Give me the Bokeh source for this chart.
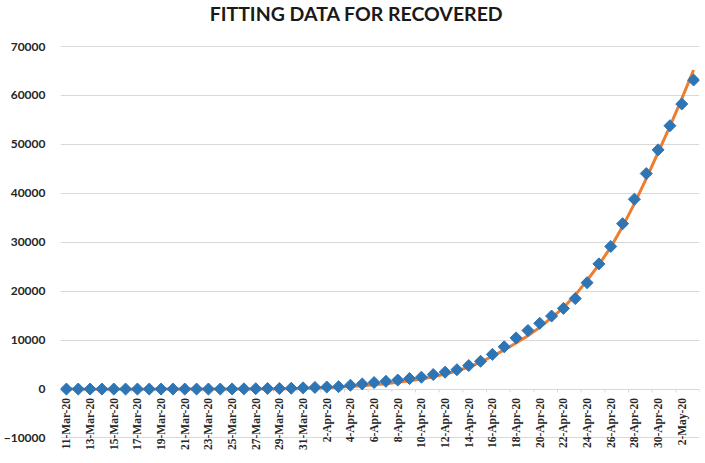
import math
import pandas as pd
from bokeh.plotting import figure
from bokeh.models import ColumnDataSource, LabelSet, Label, Range1d, SingleIntervalTicker
from bokeh.embed import file_html
from bokeh.resources import INLINE

# ---- data -------------------------------------------------------------
start_date = "2020-03-11"
end_date = "2020-05-03"

recovered = [0, 0, 0, 0, 0, 0, 0, 0, 0, 0, 0, 0, 0, 0,
             26, 42, 70, 105, 105, 162, 243,
             333, 415, 484, 786, 1042, 1326, 1582, 1846, 2142, 2423,
             2965, 3446, 3957, 4799, 5674, 7089, 8631, 10453, 11976, 13430,
             14918, 16477, 18491, 21737, 25582, 29140, 33791, 38809, 44040, 48886,
             53808, 58259, 63151]

fitted = [0, -10, -20, -30, -30, -30, -30, -20, -10, 0,
          0, 0, 0, 0, 0, 0, 0, 15, 40, 80, 130,
          200, 290, 400, 530, 690, 880, 1100, 1370, 1680, 2050,
          2500, 3050, 3700, 4500, 5500, 6700, 8000, 9400, 10900, 12600,
          14600, 16600, 19200, 22200, 25400, 29000, 33200, 37900, 43000, 48300,
          53700, 59300, 65200]

tick_labels = ["11-Mar-20", "13-Mar-20", "15-Mar-20", "17-Mar-20", "19-Mar-20",
               "21-Mar-20", "23-Mar-20", "25-Mar-20", "27-Mar-20", "29-Mar-20",
               "31-Mar-20", "2-Apr-20", "4-Apr-20", "6-Apr-20", "8-Apr-20",
               "10-Apr-20", "12-Apr-20", "14-Apr-20", "16-Apr-20", "18-Apr-20",
               "20-Apr-20", "22-Apr-20", "24-Apr-20", "26-Apr-20", "28-Apr-20",
               "30-Apr-20", "2-May-20"]

title_text = "FITTING DATA FOR RECOVERED"
y_step = 10000
# visible value window (the frame spans the whole canvas height, so the
# window extends past the 70000 / -10000 gridlines to leave room for
# the title above and the date labels below)
y_view_min, y_view_max = -15215, 79407

# ---- figure ---------------------------------------------------------------
dates = pd.date_range(start_date, end_date, freq="D")
src = ColumnDataSource(dict(x=dates, y=recovered, fit=fitted))

half_day = pd.Timedelta(hours=12)
fig = figure(width=705, height=463, output_backend="svg", toolbar_location=None,
             x_axis_type="datetime",
             x_range=Range1d(dates[0] - half_day, dates[-1] + half_day),
             y_range=Range1d(y_view_min, y_view_max),
             min_border_left=57, min_border_right=6, min_border_bottom=0,
             min_border_top=0)

fig.outline_line_color = None
fig.background_fill_color = "white"
fig.border_fill_color = "white"

fig.xaxis.visible = False
fig.xgrid.visible = False

fig.yaxis.ticker = SingleIntervalTicker(interval=y_step)
fig.yaxis.axis_line_color = None
fig.yaxis.major_tick_line_color = None
fig.yaxis.minor_tick_line_color = None
fig.yaxis.major_tick_out = 0
fig.yaxis.major_tick_in = 0
fig.yaxis.minor_tick_out = 0
fig.yaxis.major_label_text_font = "Lato"
fig.yaxis.major_label_text_font_style = "bold"
fig.yaxis.major_label_text_font_size = "12px"
fig.yaxis.major_label_text_color = "#262626"
fig.yaxis.major_label_standoff = 15
fig.ygrid.ticker = SingleIntervalTicker(interval=y_step)
fig.ygrid.grid_line_color = "#d9d9d9"
fig.ygrid.grid_line_width = 1

# category tick marks on the zero axis (between every second category)
tick_src = ColumnDataSource(dict(x=[d - half_day for d in dates[::2]] + [dates[-1] + half_day]))
fig.segment(x0="x", x1="x", y0=0, y1=-700, source=tick_src,
            line_color="#d9d9d9", line_width=1)

fig.line("x", "fit", source=src, line_color="#ED7D31", line_width=3)
fig.scatter("x", "y", source=src, marker="square", angle=math.pi / 4, size=8.5,
            fill_color="#2E75B6", line_color="#2E75B6")

lab_src = ColumnDataSource(dict(x=dates[::2][:len(tick_labels)], y=[0] * len(tick_labels),
                                text=tick_labels))
labels = LabelSet(x="x", y="y", text="text", source=lab_src, angle=math.pi / 2,
                  text_align="right", text_baseline="middle", y_offset=-9,
                  text_font="Lato", text_font_style="bold", text_font_size="11.5px",
                  text_color="#262626")
fig.add_layout(labels)

title = Label(x=296, y=450, x_units="screen", y_units="screen", text=title_text,
              text_align="center", text_baseline="middle",
              text_font="Lato", text_font_style="bold", text_font_size="19.5px",
              text_color="#1a1a1a")
fig.add_layout(title)

open("out.html", "w").write(file_html(fig, INLINE))
